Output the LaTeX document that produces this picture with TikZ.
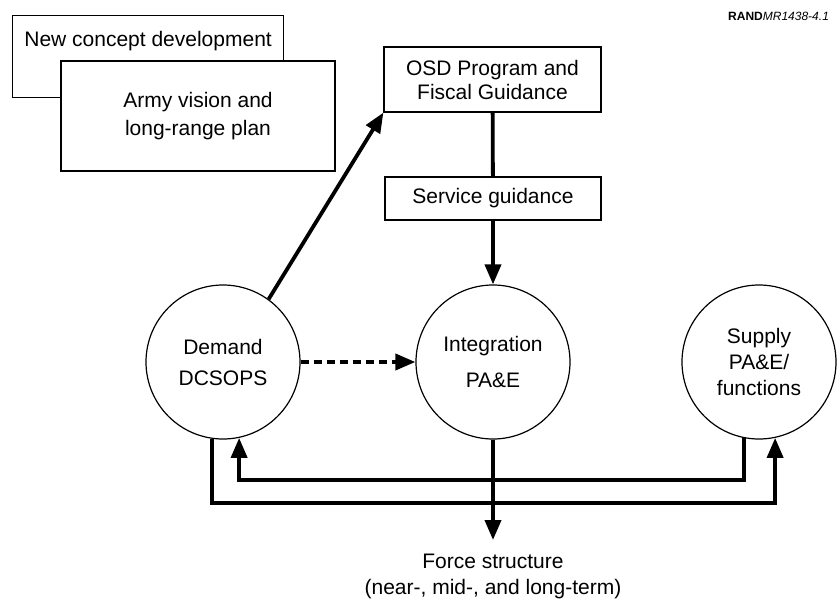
\documentclass[tikz,border=0pt]{standalone}
\usepackage{fontspec}
\setmainfont{Liberation Sans}
\usetikzlibrary{arrows.meta}

\tikzset{
	box/.style={draw, line width=0.6pt, fill=white, inner sep=0pt, align=center},
	round/.style={draw, circle, line width=0.6pt, minimum size=77pt, inner sep=0pt, align=center},
	conn/.style={line width=1.9pt},
	tip/.style={-{Triangle[width=8pt,length=10pt]}}
}

\begin{document}
\begin{tikzpicture}[x=0.5pt,y=-0.5pt,font=\fontsize{10.5}{12.5}\selectfont]
	\useasboundingbox (0,0) rectangle (837,600);

	\node[anchor=east, font=\fontsize{6}{7}\selectfont] (rand) at (836,16) {\textbf{RAND}\textit{MR1438-4.1}};

	\node[box, anchor=north west, minimum width=135.5pt, text height=15.25pt, text depth=25.75pt] (newc) at (12,15) {New concept development};
	\node[box, minimum width=137pt, minimum height=55pt, font=\fontsize{10.5}{14}\selectfont] (army) at (198,116) {Army vision and\\long-range plan};

	\node[box, minimum width=108.5pt, minimum height=32.5pt, font=\fontsize{10.5}{12}\selectfont] (osd) at (492.5,79.5) {OSD Program and\\Fiscal Guidance};
	\node[box, minimum width=108pt, minimum height=21.5pt] (serv) at (493,198.5) {Service guidance};

	\node[round, font=\fontsize{10.5}{15.5}\selectfont] (dem) at (223,362) {Demand\\DCSOPS};
	\node[round, font=\fontsize{10.5}{18}\selectfont] (integ) at (493,362) {Integration\\PA\&E};
	\node[round, font=\fontsize{10.5}{12.8}\selectfont] (sup) at (759,362) {Supply\\PA\&E/\\functions};

	\coordinate (forcetip) at (493,540);
	\node[anchor=north, inner sep=0pt, align=center, font=\fontsize{10.5}{13}\selectfont] (force) at (493,554) {Force structure\\(near-, mid-, and long-term)};

	\draw[conn] (osd) -- (serv);
	\draw[conn, tip] (serv) -- (integ);
	\draw[conn, tip] (dem.54) -- (osd.south west);
	\draw[conn, tip, dash pattern=on 4pt off 2.5pt] (dem) -- (integ);

	\draw[conn, tip] (dem.262) -- ++(0,64) -| (sup.282);
	\draw[conn, tip] (sup.259) -- ++(0,42) -| (dem.282);

	\draw[conn, tip] (integ.south) -- (forcetip);
\end{tikzpicture}
\end{document}
